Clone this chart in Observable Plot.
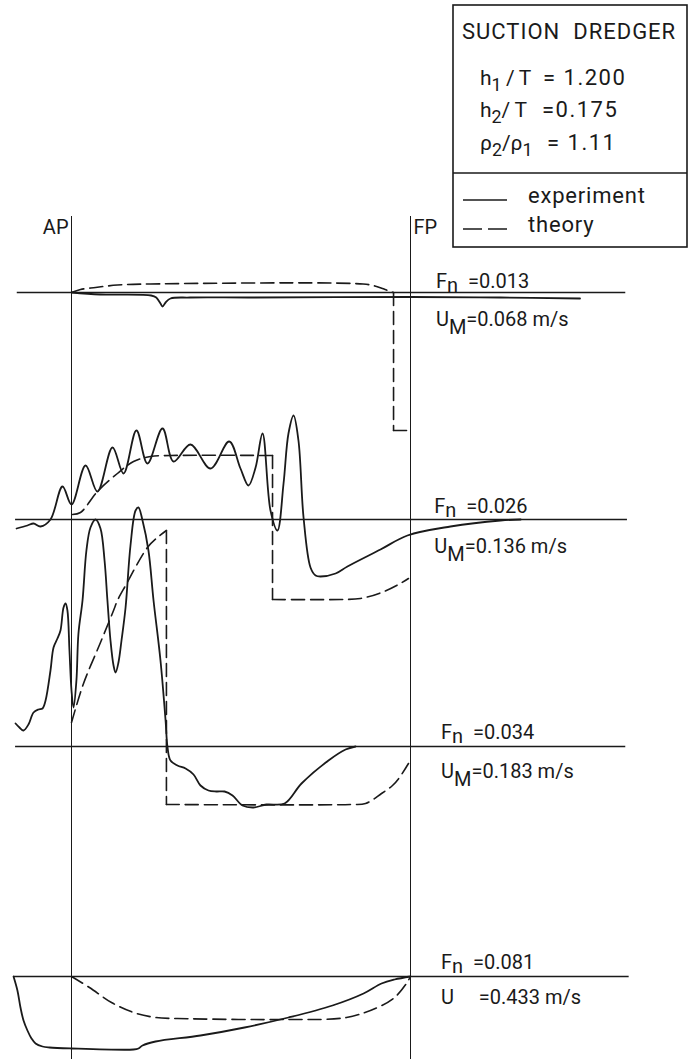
<!DOCTYPE html>
<html><head><meta charset="utf-8">
<script src="https://cdn.jsdelivr.net/npm/d3@7"></script>
<script src="https://cdn.jsdelivr.net/npm/@observablehq/plot@0.6"></script>
<style>
html,body{margin:0;padding:0;background:#fff;}
#wrap{position:relative;width:691px;height:1059px;overflow:hidden;background:#fff;}
#wrap svg{position:absolute;left:0;top:0;}
</style></head><body><div id="wrap"></div>
<script>
// ---- data (x: ship stations, AP = 0, FP = 20; y: wave elevation relative to each record's zero line) ----
const froudeLabels = ["F_{n}\u00a0\u00a0=0.013", "F_{n}\u00a0\u00a0=0.026", "F_{n}\u00a0\u00a0=0.034", "F_{n}\u00a0\u00a0=0.081"];
const speedLabels  = ["U_{M}=0.068 m/s", "U_{M}=0.136 m/s", "U_{M}=0.183 m/s", "U\u00a0\u00a0\u00a0\u00a0\u00a0=0.433 m/s"];
const levels   = [-29.2, -51.9, -74.6, -97.6];   // zero line of each record
const baseFrom = [-3.2, -3.3, -3.3, -3.4];
const baseTo   = [32.7, 32.8, 32.7, 32.9];

const exp013 = [[0,0],[1.7,-0.2],[4.7,-0.3],[5.0,-0.5],[5.25,-1.1],[5.37,-1.4],[5.55,-1.0],[5.84,-0.6],[7,-0.5],[10.6,-0.5],[20,-0.45],[25.3,-0.5],[30.0,-0.6]];
const theo013 = [[0,0],[0.53,0.3],[1.42,0.5],[2.71,0.75],[4.66,0.85],[17.2,0.85],[17.9,0.65],[18.5,0.3],[18.9,0.05],[19.0,0],[19.0,-13.8],[20,-13.8]];

const exp026 = [[-3.24,-0.9],[-2.6,-0.6],[-2.24,-0.4],[-1.83,-0.7],[-1.24,0],[-0.53,3.3],[0,1.5],[0.83,5.4],[1.53,2.8],[2.42,7.2],[3.07,4.6],[3.83,8.9],[4.48,5.6],[5.37,9.1],[6.02,5.8],[7.02,7.5],[8.2,5.1],[9.3,7.8],[9.97,5.1],[10.44,3.4],[10.86,5.2],[11.27,8.6],[11.74,0.9],[12.15,-1.1],[12.51,3.6],[12.8,8.6],[13.1,10.4],[13.39,7.9],[13.69,0.2],[14.1,-4.8],[14.4,-5.6],[14.69,-5.7],[15.58,-5.4],[16.28,-4.7],[18.23,-3.0],[19.82,-1.6],[22.36,-0.7],[25.31,-0.1],[26.5,0]];
const theo026 = [[0.06,0.5],[0.53,0.7],[1.53,2.8],[2.71,4.6],[3.66,5.8],[4.66,6.3],[5.84,6.4],[11.86,6.4],[11.86,-8.0],[15.87,-8.0],[17.05,-7.9],[18.29,-7.3],[19.29,-6.5],[19.88,-5.9]];

const exp034 = [[-3.3,2.3],[-3.07,1.9],[-2.83,1.6],[-2.54,2.2],[-2.24,3.4],[-1.95,3.7],[-1.71,3.8],[-1.53,4.6],[-1.24,7.6],[-1.06,9.9],[-0.83,10.8],[-0.65,11.6],[-0.47,13.9],[-0.35,14.3],[-0.24,13.6],[-0.12,9.6],[0,5.6],[0.12,3.9],[0.29,6.6],[0.41,11.3],[0.65,14.6],[0.88,19.6],[1.12,21.9],[1.42,22.7],[1.71,21.8],[1.95,18.6],[2.12,14.6],[2.3,10.6],[2.48,8.1],[2.6,7.4],[2.77,8.4],[2.95,10.6],[3.19,13.9],[3.48,20.1],[3.78,23.6],[3.95,23.9],[4.19,22.6],[4.54,19.6],[4.84,14.6],[5.25,8.6],[5.55,2.6],[5.66,0],[5.84,-1.4],[6.25,-1.9],[6.73,-2.2],[7.2,-2.8],[7.61,-3.9],[8.08,-4.4],[8.55,-4.5],[9.03,-4.5],[9.5,-4.9],[10.09,-5.9],[10.74,-6.1],[11.5,-5.8],[12.57,-5.7],[13.57,-3.7],[15.16,-1.4],[16.17,-0.3],[16.76,0]];
const theo034 = [[0,2.4],[0.71,6.3],[1.71,10.4],[2.48,13.6],[2.71,14.6],[3.19,16.1],[4.48,19.9],[5.07,20.9],[5.6,21.6],[5.6,-5.8],[16.46,-5.8],[17.35,-5.7],[18.29,-4.7],[18.94,-3.9],[19.35,-3.1],[19.88,-1.7]];

const exp081 = [[-3.42,0],[-3.19,-1.4],[-3.01,-3.1],[-2.83,-4.4],[-2.6,-5.4],[-2.36,-6.2],[-2.12,-6.7],[-1.71,-7.0],[-1.3,-7.1],[0,-7.2],[3.66,-7.3],[3.95,-7.2],[4.19,-6.9],[4.96,-6.5],[7.61,-5.9],[10.21,-5.1],[12.8,-4.1],[15.4,-2.9],[17.23,-1.7],[18.29,-0.7],[19.06,-0.3],[20,0]];
const theo081 = [[0,0],[1.06,-1.1],[2.36,-2.6],[3.66,-3.6],[4.96,-4.1],[6.25,-4.2],[12.8,-4.3],[16.22,-4.1],[18.05,-3.1],[19.06,-2.1],[19.76,-0.7],[20,0]];

const experiments = [exp013, exp026, exp034, exp081];
const theories    = [theo013, theo026, theo034, theo081];
const labelX   = [21.5, 21.4, 21.8, 21.8];
const fnLift   = [0.5, 0.7, 0.8, 0.8];
const umDrop   = [-3.3, -3.3, -3.1, -2.7];

// ---- chart ----
const ink = "#1a1a1a";
const FONT = "Roboto, 'Liberation Sans', sans-serif";

const baseRows = levels.map((y, i) => ({y, x1: baseFrom[i], x2: baseTo[i]}));
const labelRows = levels.flatMap((y, i) => [
  {x: labelX[i], y: y + fnLift[i], t: froudeLabels[i]},
  {x: labelX[i], y: y + umDrop[i], t: speedLabels[i]}
]);

// split a theory record at its vertical jumps (same station twice) so the corners stay sharp
function splitRuns(data) {
  const smooth = [], jumps = [];
  let run = [data[0]];
  for (let i = 1; i < data.length; i++) {
    if (data[i][0] === data[i - 1][0]) {
      smooth.push(run);
      jumps.push([data[i - 1], data[i]]);
      run = [data[i]];
    } else run.push(data[i]);
  }
  smooth.push(run);
  return {smooth, jumps};
}

const marks = [
  Plot.ruleX([0, 20], {y1: -21.6, y2: -105.9, stroke: ink, strokeWidth: 1}),
  Plot.ruleY(baseRows, {y: "y", x1: "x1", x2: "x2", stroke: ink, strokeWidth: 1.7}),
  Plot.text(["AP"], {x: 0, y: -23.3, text: d => d, textAnchor: "end", lineAnchor: "bottom", dx: -3, fontSize: 20, fill: ink}),
  Plot.text(["FP"], {x: 20, y: -23.3, text: d => d, textAnchor: "start", lineAnchor: "bottom", dx: 3, fontSize: 20, fill: ink}),
  Plot.text(labelRows, {x: "x", y: "y", text: "t", textAnchor: "start", lineAnchor: "bottom", fontSize: 20, fill: ink})
];
experiments.forEach((data, p) => {
  marks.push(Plot.line(data, {x: d => d[0], y: d => levels[p] + d[1], curve: "catmull-rom", stroke: ink, strokeWidth: 1.8}));
});
theories.forEach((data, p) => {
  const {smooth, jumps} = splitRuns(data);
  const rows = smooth.flatMap((run, k) => run.map(d => ({x: d[0], y: levels[p] + d[1], k})));
  const jrows = jumps.flatMap((run, k) => run.map(d => ({x: d[0], y: levels[p] + d[1], k})));
  marks.push(Plot.line(rows, {x: "x", y: "y", z: "k", curve: "catmull-rom", stroke: ink, strokeWidth: 1.6, strokeDasharray: "13,6"}));
  marks.push(Plot.line(jrows, {x: "x", y: "y", z: "k", curve: "linear", stroke: ink, strokeWidth: 1.6, strokeDasharray: "13,6"}));
});

const chart = Plot.plot({
  width: 691, height: 1059,
  marginTop: 0, marginRight: 0, marginBottom: 0, marginLeft: 0,
  x: {domain: [-71 / 16.95, 620 / 16.95], axis: null},
  y: {domain: [-105.9, 0], axis: null},
  style: {fontFamily: FONT, background: "white", color: ink},
  marks
});

// subscripts: "_{x}"
const NS = "http://www.w3.org/2000/svg";
function applySubs(root) {
  root.querySelectorAll("text").forEach(t => {
    const s = t.textContent;
    if (!s.includes("_{")) return;
    const parts = s.split(/(_\{[^}]*\})/).filter(Boolean);
    t.textContent = "";
    let shift = 0;
    for (const p of parts) {
      const ts = document.createElementNS(NS, "tspan");
      if (p.startsWith("_{")) {
        const c = p.slice(2, -1);
        const dy = /[A-Z]/.test(c) ? 8 : /[0-9]/.test(c) ? 6 : 4;
        ts.textContent = c;
        ts.setAttribute("dy", dy);
        if (/[0-9]/.test(c)) ts.setAttribute("font-size", "0.85em");
        shift += dy;
      } else {
        ts.textContent = p;
        if (shift) { ts.setAttribute("dy", -shift); shift = 0; }
      }
      t.appendChild(ts);
    }
  });
}
applySubs(chart);
const wrap = document.getElementById("wrap");
wrap.appendChild(chart);

// ---- legend box (top right) ----
const leg = d3.select(wrap).append("svg").attr("width", 691).attr("height", 260)
  .style("font-family", FONT).style("fill", ink);
leg.append("rect").attr("x", 453).attr("y", 5).attr("width", 234).attr("height", 242)
  .attr("fill", "white").attr("stroke", ink).attr("stroke-width", 1.6);
leg.append("line").attr("x1", 453).attr("x2", 687).attr("y1", 173).attr("y2", 173).attr("stroke", ink).attr("stroke-width", 1.4);
const legText = [
  {x: 462, y: 39, t: "SUCTION\u00a0\u00a0DREDGER", s: 22, ls: 1},
  {x: 480, y: 85, t: "h_{1}\u2009/\u2009T", s: 21, ls: 0},
  {x: 543, y: 85, t: "= 1.200", s: 22, ls: 1.5},
  {x: 480, y: 117, t: "h_{2}/\u2009T", s: 21, ls: 0},
  {x: 542, y: 117, t: "=0.175", s: 22, ls: 1.5},
  {x: 480, y: 150, t: "\u03c1_{2}/\u03c1_{1}", s: 21, ls: 0},
  {x: 547, y: 150, t: "= 1.11", s: 22, ls: 1.5},
  {x: 528, y: 203, t: "experiment", s: 22, ls: 0.8},
  {x: 528, y: 232, t: "theory", s: 22, ls: 0.8}
];
leg.selectAll("text.lg").data(legText).join("text").attr("class", "lg")
  .attr("x", d => d.x).attr("y", d => d.y).attr("font-size", d => d.s)
  .attr("letter-spacing", d => d.ls).text(d => d.t);
leg.append("line").attr("x1", 463).attr("x2", 507).attr("y1", 200).attr("y2", 200).attr("stroke", ink).attr("stroke-width", 1.6);
leg.append("line").attr("x1", 463).attr("x2", 507).attr("y1", 229).attr("y2", 229).attr("stroke", ink).attr("stroke-width", 1.6).attr("stroke-dasharray", "19,6");
applySubs(leg.node());
</script></body></html>
